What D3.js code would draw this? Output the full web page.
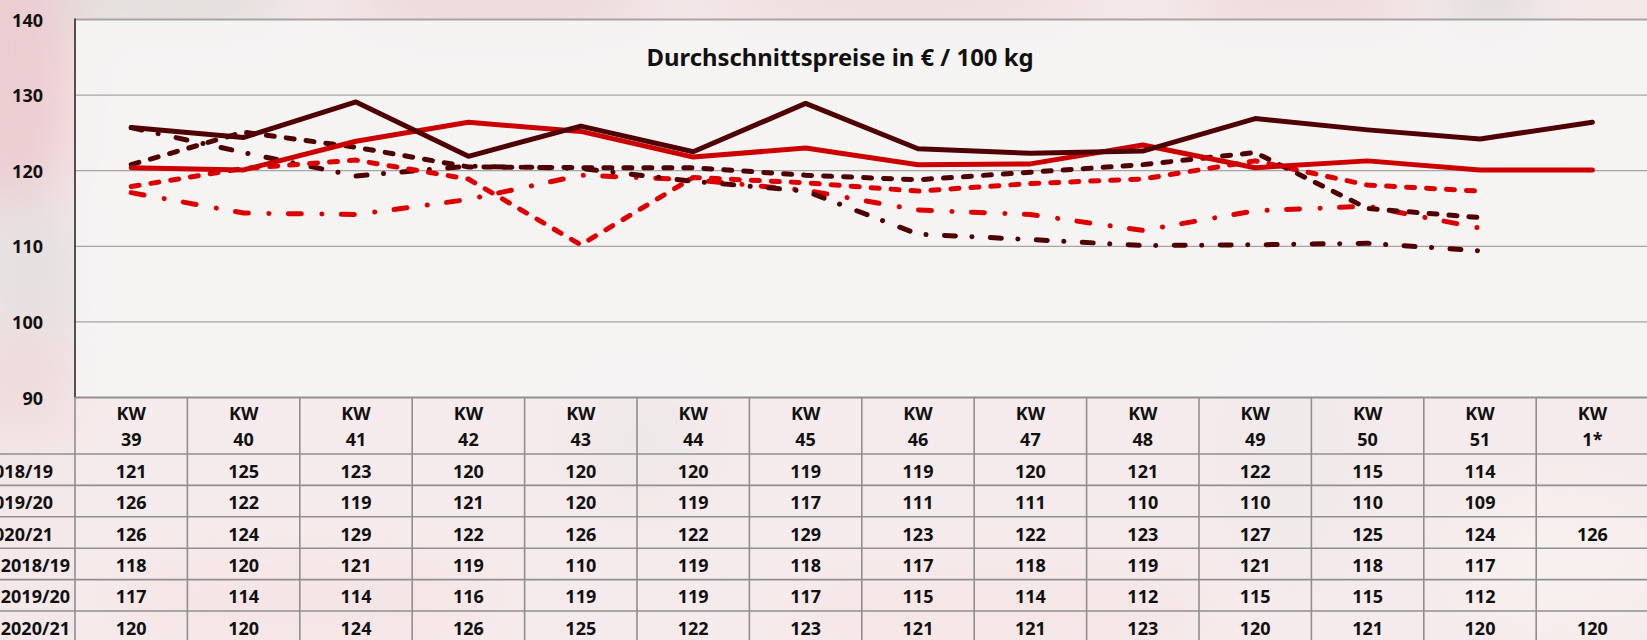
<!DOCTYPE html>
<html>
<head>
<meta charset="utf-8">
<script src="https://cdn.jsdelivr.net/npm/d3@7"></script>
<style>
  body { margin: 0; overflow: hidden; background: #f3e6e7; }
  svg text { font-family: "Noto Sans", Lato, sans-serif; font-weight: bold; fill: #111; }
</style>
</head>
<body>
<div id="chart"></div>
<script>
// weeks (columns of the table)
const weeks = ["39", "40", "41", "42", "43", "44", "45", "46", "47", "48", "49", "50", "51", "1*"];
const rowLabels = ["2018/19", "2019/20", "2020/21", "2018/19", "2019/20", "2020/21"];

// plotted values
const dark1819 = [120.8, 125.1, 123.1, 120.5, 120.4, 120.4, 119.4, 118.8, 119.8, 120.8, 122.4, 115.0, 113.8];
const dark1920 = [125.7, 122.4, 119.3, 120.6, 120.3, 118.6, 117.3, 111.6, 110.9, 110.1, 110.2, 110.4, 109.4];
const dark2021 = [125.7, 124.4, 129.1, 121.9, 125.9, 122.5, 128.9, 122.9, 122.3, 122.6, 126.9, 125.4, 124.2, 126.4];
const red1819 = [117.9, 120.3, 121.4, 118.9, 110.2, 119.1, 118.4, 117.3, 118.3, 118.9, 121.3, 118.1, 117.3];
const red1920 = [117.1, 114.4, 114.2, 116.2, 119.4, 118.8, 117.4, 114.8, 114.2, 112.1, 114.7, 115.3, 112.4];
const red2021 = [120.4, 120.1, 123.9, 126.4, 125.2, 121.8, 123.0, 120.8, 120.9, 123.4, 120.4, 121.3, 120.1, 120.1];

// printed table values
const tab1 = ["121", "125", "123", "120", "120", "120", "119", "119", "120", "121", "122", "115", "114", ""];
const tab2 = ["126", "122", "119", "121", "120", "119", "117", "111", "111", "110", "110", "110", "109", ""];
const tab3 = ["126", "124", "129", "122", "126", "122", "129", "123", "122", "123", "127", "125", "124", "126"];
const tab4 = ["118", "120", "121", "119", "110", "119", "118", "117", "118", "119", "121", "118", "117", ""];
const tab5 = ["117", "114", "114", "116", "119", "119", "117", "115", "114", "112", "115", "115", "112", ""];
const tab6 = ["120", "120", "124", "126", "125", "122", "123", "121", "121", "123", "120", "121", "120", "120"];

const yTicks = [90, 100, 110, 120, 130, 140];
const title = "Durchschnittspreise in € / 100 kg";

const width = 1647, height = 640;
const plotLeft = 75, colW = 112.4;
const plotTop = 19.5, plotBottom = 397.5;
const headerBottom = 454, rowH = 31.4;

const DARK = "#4e0204", RED = "#cc0000", RED2 = "#de0000";

const svg = d3.select("#chart").append("svg")
  .attr("width", width).attr("height", height);

// blurred background
const defs = svg.append("defs");
defs.append("filter").attr("id", "blur")
  .attr("x", "-50%").attr("y", "-50%").attr("width", "200%").attr("height", "200%")
  .append("feGaussianBlur").attr("stdDeviation", 28);

svg.append("rect").attr("width", width).attr("height", height).attr("fill", "#f4e8e9");
const bg = svg.append("g").attr("filter", "url(#blur)");
[
  [15, 60, 60, 180, "#ecccd0"],
  [30, 280, 50, 90, "#e4e0e0"],
  [20, 380, 60, 60, "#efdcdd"],
  [170, 0, 120, 25, "#d9dad6"],
  [500, 0, 160, 25, "#e9d3d6"],
  [900, 0, 200, 22, "#edd8da"],
  [1490, 0, 40, 25, "#d5d9d5"],
  [1300, 0, 120, 20, "#ecd3d6"],
  [640, 440, 60, 60, "#e6e3e3"],
  [1300, 460, 70, 120, "#ebe6e7"],
  [1560, 560, 90, 60, "#f7f1ee"],
  [300, 600, 200, 40, "#f2dcdd"],
  [1000, 610, 220, 40, "#f3dfe0"]
].forEach(([cx, cy, rx, ry, c]) => {
  bg.append("ellipse").attr("cx", cx).attr("cy", cy).attr("rx", rx).attr("ry", ry).attr("fill", c);
});

// scales
const x = d3.scaleBand().domain(weeks).range([plotLeft, plotLeft + colW * weeks.length]);
const xc = (i) => x(weeks[i]) + x.bandwidth() / 2;
const y = d3.scaleLinear().domain([90, 140]).range([plotBottom, plotTop]);

// plot area
svg.append("rect")
  .attr("x", plotLeft).attr("y", plotTop)
  .attr("width", width - plotLeft).attr("height", plotBottom - plotTop)
  .attr("fill", "#f5f3f3").attr("fill-opacity", 0.93);

// gridlines
svg.append("g")
  .selectAll("line")
  .data(yTicks.filter((d) => d > 90))
  .join("line")
  .attr("x1", plotLeft).attr("x2", width)
  .attr("y1", (d) => y(d)).attr("y2", (d) => y(d))
  .attr("stroke", "#a5a5a5")
  .attr("stroke-width", (d) => (d === 140 ? 2 : 1.2));

// y labels
svg.append("g")
  .selectAll("text")
  .data(yTicks)
  .join("text")
  .attr("x", 43).attr("y", (d) => y(d))
  .attr("text-anchor", "end")
  .attr("dominant-baseline", "central")
  .style("font-size", "18px")
  .text((d) => d);

// title, fitted to the width seen in the picture
const t = svg.append("text")
  .attr("x", 840).attr("y", 66)
  .attr("text-anchor", "middle")
  .style("font-size", "26px")
  .text(title);
const tw = t.node().getComputedTextLength();
t.style("font-size", (26 * 387 / tw).toFixed(2) + "px");

// lines
const line = d3.line()
  .x((d, i) => xc(i))
  .y((d) => y(d));

const series = [
  { values: red1920, color: RED2, dash: "13,20.5,0.1,19.4" },
  { values: dark1920, color: DARK, dash: "11,16.5,0.1,18.4" },
  { values: red1819, color: RED2, dash: "8,12" },
  { values: dark1819, color: DARK, dash: "8,12" },
  { values: red2021, color: RED, dash: null },
  { values: dark2021, color: DARK, dash: null }
];

svg.append("g")
  .selectAll("path")
  .data(series)
  .join("path")
  .attr("d", (d) => line(d.values))
  .attr("fill", "none")
  .attr("stroke", (d) => d.color)
  .attr("stroke-width", 5)
  .attr("stroke-linecap", "round")
  .attr("stroke-linejoin", "round")
  .attr("stroke-dasharray", (d) => d.dash);

// y axis line
svg.append("line")
  .attr("x1", plotLeft).attr("x2", plotLeft)
  .attr("y1", plotTop - 1).attr("y2", plotBottom)
  .attr("stroke", "#2a2a2a").attr("stroke-width", 1.6);

// data table
const table = svg.append("g");
const rows = [tab1, tab2, tab3, tab4, tab5, tab6];
const rowY = (r) => headerBottom + r * rowH;

table.append("rect")
  .attr("x", plotLeft).attr("y", plotBottom)
  .attr("width", width - plotLeft).attr("height", height - plotBottom)
  .attr("fill", "#fbf1f1").attr("fill-opacity", 0.4);

// horizontal rules
table.append("line")
  .attr("x1", plotLeft).attr("x2", width)
  .attr("y1", plotBottom).attr("y2", plotBottom)
  .attr("stroke", "#8f8f8f").attr("stroke-width", 2);
table.selectAll("line.h")
  .data(d3.range(rows.length + 1))
  .join("line")
  .attr("class", "h")
  .attr("x1", 0).attr("x2", width)
  .attr("y1", (r) => rowY(r)).attr("y2", (r) => rowY(r))
  .attr("stroke", "#8f8f8f").attr("stroke-width", 1.6);

// vertical rules
table.selectAll("line.v")
  .data(weeks)
  .join("line")
  .attr("class", "v")
  .attr("x1", (w) => x(w)).attr("x2", (w) => x(w))
  .attr("y1", plotBottom).attr("y2", height)
  .attr("stroke", "#8f8f8f").attr("stroke-width", 1.6);

// header
const head = table.selectAll("g.head")
  .data(weeks)
  .join("g")
  .attr("class", "head")
  .attr("transform", (w) => `translate(${x(w) + x.bandwidth() / 2},0)`);
head.append("text")
  .attr("y", 413).attr("text-anchor", "middle").attr("dominant-baseline", "central")
  .style("font-size", "18px").text("KW");
head.append("text")
  .attr("y", 439).attr("text-anchor", "middle").attr("dominant-baseline", "central")
  .style("font-size", "18px").text((w) => w);

// row labels (cut at the left edge as in the picture)
table.selectAll("text.lab")
  .data(rowLabels)
  .join("text")
  .attr("class", "lab")
  .attr("x", (d, r) => (r < 3 ? 53 : 70))
  .attr("y", (d, r) => rowY(r) + rowH / 2 + 1)
  .attr("text-anchor", "end")
  .attr("dominant-baseline", "central")
  .style("font-size", "18px")
  .text((d) => d);

// values
rows.forEach((vals, r) => {
  table.append("g")
    .selectAll("text")
    .data(vals)
    .join("text")
    .attr("x", (d, i) => xc(i))
    .attr("y", rowY(r) + rowH / 2 + 1)
    .attr("text-anchor", "middle")
    .attr("dominant-baseline", "central")
    .style("font-size", "18px")
    .text((d) => d);
});
</script>
</body>
</html>
